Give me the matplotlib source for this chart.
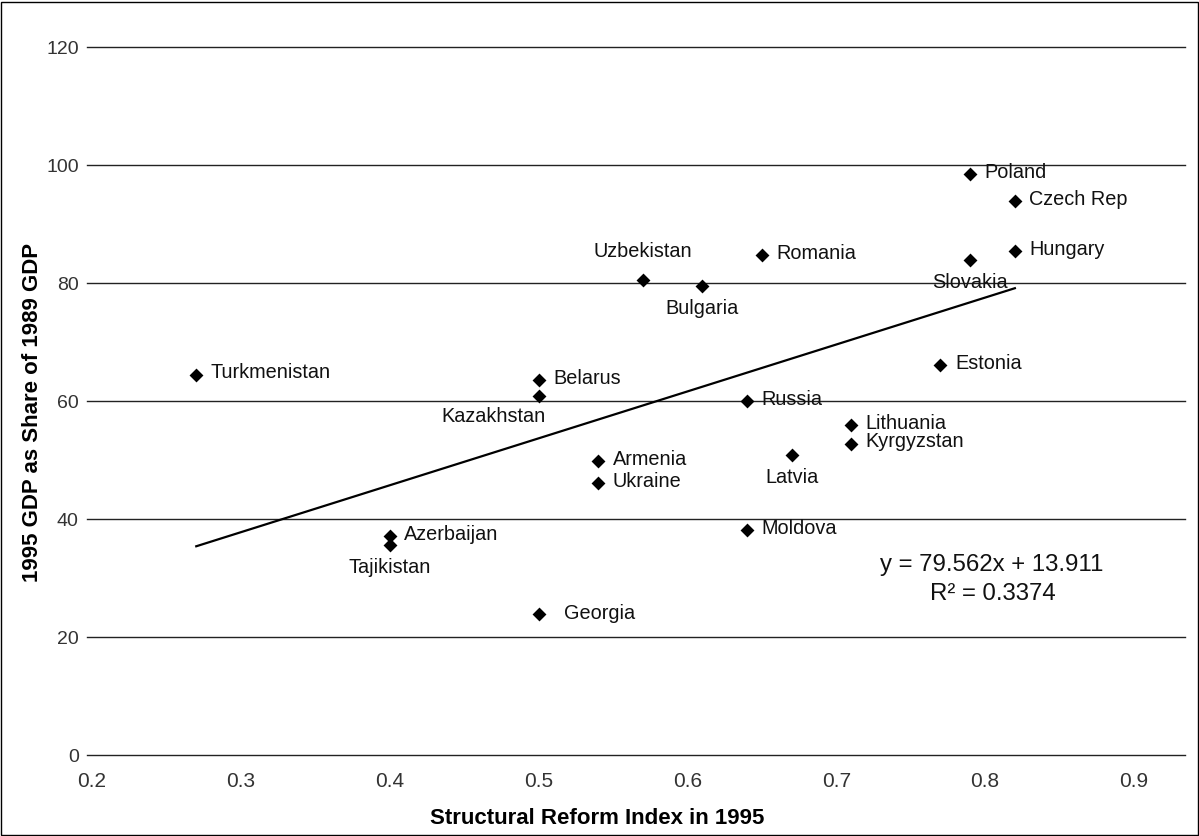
import matplotlib
matplotlib.use("Agg")
import matplotlib.pyplot as plt
from matplotlib.patches import Rectangle

countries = ["Turkmenistan", "Belarus", "Kazakhstan", "Armenia", "Ukraine", "Uzbekistan",
             "Poland", "Czech Rep", "Hungary", "Romania", "Slovakia", "Bulgaria",
             "Estonia", "Russia", "Lithuania", "Kyrgyzstan", "Latvia", "Moldova",
             "Azerbaijan", "Tajikistan", "Georgia"]
reform_index = [0.27, 0.50, 0.50, 0.54, 0.54, 0.57,
                0.79, 0.82, 0.82, 0.65, 0.79, 0.61,
                0.77, 0.64, 0.71, 0.71, 0.67, 0.64,
                0.40, 0.40, 0.50]
gdp_share = [64.5, 63.6, 60.8, 49.8, 46.1, 80.5,
             98.5, 93.9, 85.4, 84.7, 83.9, 79.5,
             66.1, 60.0, 55.9, 52.8, 50.8, 38.1,
             37.1, 35.6, 23.9]
label_pos = ["right", "right", "below_left", "right", "right", "above",
             "right", "right", "right", "right", "below", "below",
             "right", "right", "right", "right", "below", "right",
             "right", "below", "right_far"]
slope, intercept = 79.562, 13.911
r_squared = "0.3374"
y_ticks = [0, 20, 40, 60, 80, 100, 120]
x_ticks = [0.2, 0.3, 0.4, 0.5, 0.6, 0.7, 0.8, 0.9]

plt.rcParams['font.family'] = ['Liberation Sans', 'DejaVu Sans']

W, H = 1199, 836
fig = plt.figure(figsize=(W / 100, H / 100), dpi=100)
ax = fig.add_axes([87 / W, (H - 755) / H, (1185 - 87) / W, (755 - 47.3) / H])
ax.set_xlim(0.1966, 0.9343)
ax.set_ylim(0, 120)

for s in ax.spines.values():
    s.set_visible(False)
for yt in y_ticks:
    ax.axhline(yt, color="#222222", lw=1.0, zorder=1, clip_on=False)

ax.set_yticks(y_ticks)
ax.set_xticks(x_ticks)
ax.set_xticklabels([f"{v:.1f}" for v in x_ticks])
ax.tick_params(axis="both", length=0, colors="#333333")
ax.tick_params(axis="y", pad=6, labelsize=14)
ax.tick_params(axis="x", pad=12, labelsize=15)

ax.scatter(reform_index, gdp_share, marker="D", s=50, color="black", zorder=3, linewidths=0)

xmin, xmax = min(reform_index), max(reform_index)
ax.plot([xmin, xmax], [slope * xmin + intercept, slope * xmax + intercept],
        color="black", lw=1.6, zorder=2)

fs = 14.3
for name, x, y, pos in zip(countries, reform_index, gdp_share, label_pos):
    if pos == "right":
        off, ha, va = (10.5, 1.2), "left", "center"
    elif pos == "right_far":
        off, ha, va = (18.5, 0.5), "left", "center"
    elif pos == "below":
        off, ha, va = (0, -16), "center", "center"
    elif pos == "below_left":
        off, ha, va = (5, -14.5), "right", "center"
    else:
        off, ha, va = (0, 21), "center", "center"
    ax.annotate(name, (x, y), xytext=off, textcoords="offset points",
                ha=ha, va=va, fontsize=fs, color="#111111", zorder=4)

fig.text(992 / W, 1 - 565 / H, f"y = {slope}x + {intercept}", ha="center", va="center",
         fontsize=17.3, color="#111111")
fig.text(993 / W, 1 - 594 / H, f"R\u00b2 = {r_squared}", ha="center", va="center",
         fontsize=17.3, color="#111111")

fig.text(597 / W, 1 - 818 / H, "Structural Reform Index in 1995", ha="center", va="center",
         fontsize=16, fontweight="bold", family=["Liberation Sans Narrow", "Liberation Sans"])
fig.text(33 / W, 1 - 412 / H, "1995 GDP as Share of 1989 GDP", ha="center", va="center",
         rotation=90, fontsize=16, fontweight="bold",
         family=["Liberation Sans Narrow", "Liberation Sans"])

fig.add_artist(Rectangle((1 / W, 1 / H), (W - 2.5) / W, (H - 2.5) / H, transform=fig.transFigure,
                         fill=False, edgecolor="black", lw=1.0))

fig.savefig("out.png", dpi=100)
